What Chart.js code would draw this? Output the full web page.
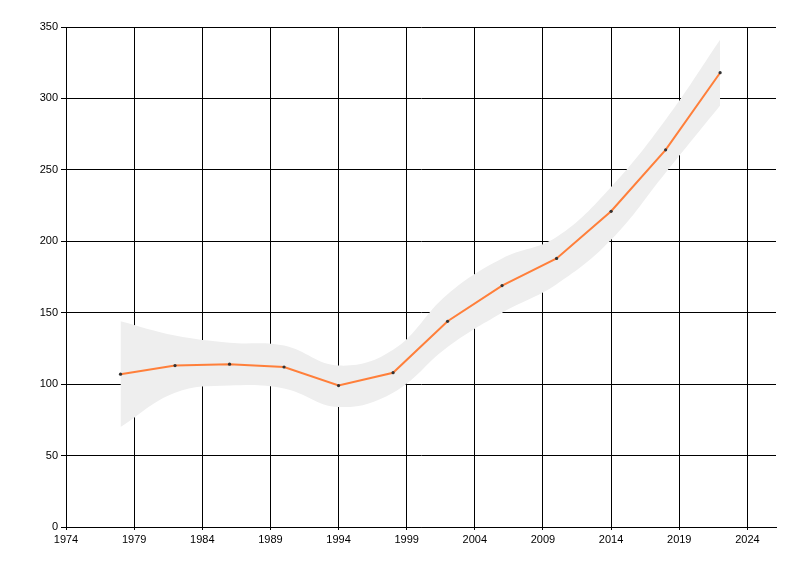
<!DOCTYPE html>
<html>
<head>
<meta charset="utf-8">
<script src="https://cdn.jsdelivr.net/npm/chart.js@4"></script>
<style>
  html, body { margin: 0; padding: 0; background: #fff; }
  #wrap { width: 800px; height: 576px; }
</style>
</head>
<body>
<div id="wrap"><canvas id="c" width="800" height="576"></canvas></div>
<script>
const years = [1978, 1982, 1986, 1990, 1994, 1998, 2002, 2006, 2010, 2014, 2018, 2022];
const values = [107, 113, 114, 112, 99, 108, 144, 169, 188, 221, 264, 318];
const upper = [144, 134, 129, 127, 113, 124, 163, 188, 203, 238, 285, 341];
const lower = [70, 94, 99, 97, 84, 94, 126, 150, 170, 201, 248, 295];
const xTicks = [1974, 1979, 1984, 1989, 1994, 1999, 2004, 2009, 2014, 2019, 2024];
const yTicks = [0, 50, 100, 150, 200, 250, 300, 350];

const pts = arr => arr.map((v, i) => ({ x: years[i], y: v }));
const font = { family: "'Liberation Sans', Arial, sans-serif", size: 11 };

new Chart(document.getElementById('c'), {
  type: 'line',
  data: {
    datasets: [
      { data: pts(values), order: -1, borderColor: '#ff7f3a', borderWidth: 2, tension: 0, fill: false,
        pointRadius: 1.6, pointBackgroundColor: '#333', pointBorderWidth: 0 },
      { data: pts(lower), order: 1, borderWidth: 0, pointRadius: 0, tension: 0.4, fill: false, backgroundColor: '#eeeeee' },
      { data: pts(upper), order: 1, borderWidth: 0, pointRadius: 0, tension: 0.4, fill: '-1', backgroundColor: '#eeeeee' }
    ]
  },
  options: {
    responsive: false,
    animation: false,
    layout: { padding: { top: 27, right: 24, left: 0, bottom: 0 } },
    plugins: { legend: { display: false }, tooltip: { enabled: false } },
    scales: {
      x: {
        type: 'linear', min: 1974, max: 2026.1,
        afterBuildTicks: s => { s.ticks = xTicks.map(v => ({ value: v })); },
        afterFit: s => { s.height = 49; },
        grid: { color: '#000', lineWidth: 1, tickLength: 3 },
        border: { color: '#000' },
        ticks: { color: '#000', font, maxRotation: 0, padding: 3, callback: v => String(v) }
      },
      y: {
        min: 0, max: 350,
        afterBuildTicks: s => { s.ticks = yTicks.map(v => ({ value: v })); },
        afterFit: s => { s.width = 66; },
        grid: { color: '#000', lineWidth: 1, tickLength: 5 },
        border: { color: '#000' },
        ticks: { color: '#000', font, padding: 3, callback: v => String(v) }
      }
    }
  }
});
</script>
</body>
</html>
